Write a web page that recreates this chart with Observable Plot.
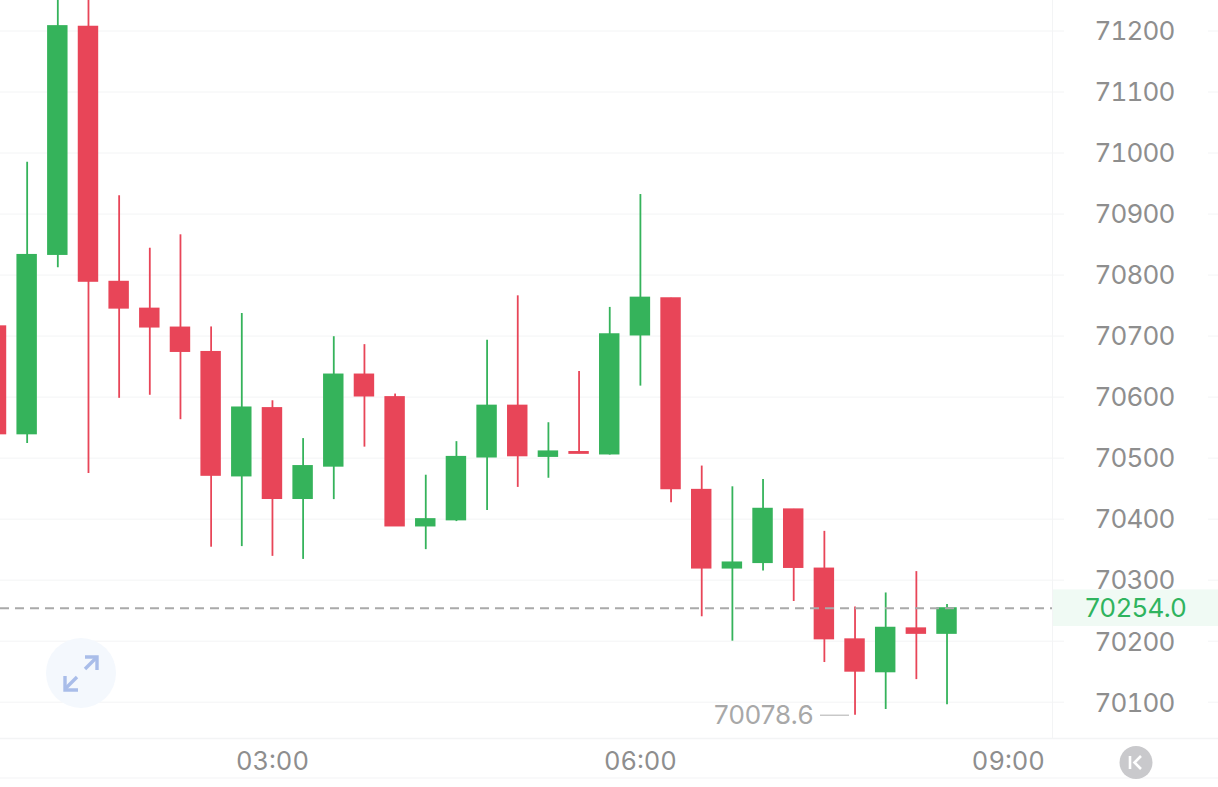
<!DOCTYPE html>
<html><head><meta charset="utf-8">
<script src="https://cdn.jsdelivr.net/npm/d3@7"></script>
<script src="https://cdn.jsdelivr.net/npm/@observablehq/plot@0.6"></script>
<style>
html,body{margin:0;padding:0;background:#fff;overflow:hidden}
#wrap{position:relative;width:1218px;height:787px}
#wrap svg{display:block}
#wrap svg [aria-label="y-axis tick label"]{letter-spacing:-0.9px}
#icons{position:absolute;left:0;top:0;pointer-events:none}
</style></head><body><div id="wrap"></div>
<script>
const firstCandle = "00:45";
const opens  = [70716,70539,70833,71207,70789,70745,70714,70674,70470,70582,70433,70486,70637,70600,70388,70398,70501,70586,70502,70510,70506,70701,70762,70448,70319,70328,70416,70319,70203,70149,70221,70212];
const highs  = [70716,70985,71300,71320,70930,70844,70866,70715,70737,70594,70532,70699,70686,70605,70472,70527,70693,70766,70558,70642,70747,70932,70762,70487,70453,70465,70416,70380,70256,70279,70314,70260];
const lows   = [70539,70524,70812,70475,70598,70603,70563,70354,70355,70339,70334,70432,70518,70388,70350,70396,70414,70452,70467,70507,70505,70618,70427,70240,70200,70315,70265,70165,70078.6,70088,70137,70096];
const closes = [70539,70833,71208,70789,70745,70714,70674,70471,70583,70433,70487,70637,70601,70388,70400,70502,70586,70503,70511,70507,70703,70763,70449,70319,70329,70417,70320,70203,70150,70222,70212,70254];
const yTicks = [71200,71100,71000,70900,70800,70700,70600,70500,70400,70300,70200,70100];
const xTickLabels = ["03:00","06:00","09:00"];
const lastPrice = 70254.0;
const lowPrice = 70078.6;

const GREEN="#35b35b", RED="#e84558", GRID="#f3f4f5", TXT="#8e8e8e";
const FONT="Inter, sans-serif";
const minute = m => new Date(Date.UTC(2024,0,1,0,0,0)+m*60000);
const parseHM = s => { const [h,m]=s.split(":").map(Number); return h*60+m; };
const t0 = parseHM(firstCandle);
const candles = opens.map((o,i)=>({
  m:t0+15*i, open:o, close:closes[i], high:highs[i], low:lows[i],
  color: closes[i]>=o ? GREEN : RED
}));
const domainM=[46.96,561.6];
const pxM = px => minute(domainM[0]+px/1052*(domainM[1]-domainM[0]));

const chart = Plot.plot({
  width:1218, height:787,
  marginLeft:0, marginRight:166, marginTop:0, marginBottom:49,
  style:{fontFamily:FONT, background:"#fff", overflow:"visible"},
  x:{type:"utc", domain:domainM.map(minute)},
  y:{domain:[70040.5,71250]},
  marks:[
    Plot.rect([lastPrice],{x1:pxM(1052),x2:pxM(1218),y1:d=>d-30,y2:d=>d+30,fill:"#f0faf4"}),
    Plot.ruleY(yTicks,{x1:pxM(0),x2:pxM(1064),stroke:GRID,strokeWidth:1}),
    Plot.ruleY(yTicks,{x1:pxM(1208),x2:pxM(1218),stroke:GRID,strokeWidth:1}),
    Plot.ruleX([pxM(1052)],{stroke:GRID,strokeWidth:1}),
    Plot.ruleY([70040.5],{x1:pxM(0),x2:pxM(1218),stroke:GRID,strokeWidth:1.5}),
    Plot.ruleX(candles,{x:d=>minute(d.m),y1:"low",y2:"high",stroke:"color",strokeWidth:1.8,clip:true}),
    Plot.rect(candles,{x1:d=>minute(d.m-5),x2:d=>minute(d.m+5),y1:"open",y2:"close",fill:"color",insetTop:-0.5,insetBottom:-0.5,clip:true}),
    Plot.ruleY([lastPrice],{x1:pxM(0),x2:pxM(1052),stroke:"#a9a9a9",strokeWidth:1.8,strokeDasharray:"9,6"}),
    Plot.axisY({anchor:"right",ticks:yTicks,tickSize:0,tickPadding:82,textAnchor:"middle",tickFormat:d=>String(d),fontSize:26,fill:TXT,label:null,dy:1}),
    Plot.axisX({ticks:xTickLabels.map(s=>minute(parseHM(s))),tickFormat:d=>d3.utcFormat("%H:%M")(d),tickSize:0,tickPadding:13,fontSize:25.5,fill:TXT,label:null}),
    Plot.text([lastPrice],{x:pxM(1135.5),y:d=>d,text:d=>d.toFixed(1),fill:"#2fb45e",fontSize:26}),
    Plot.ruleY([lowPrice],{x1:pxM(820),x2:pxM(849),stroke:"#c6c6c6",strokeWidth:1.4}),
    Plot.text([lowPrice],{x:pxM(813),y:d=>d,text:d=>d.toFixed(1),textAnchor:"end",fill:"#a8a8a8",fontSize:26})
  ]
});
const wrap=document.getElementById("wrap");
wrap.appendChild(chart);
wrap.insertAdjacentHTML("beforeend",`<svg id="icons" width="1218" height="787" viewBox="0 0 1218 787">
  <line x1="0" y1="778" x2="1218" y2="778" stroke="${GRID}" stroke-width="1.2"/>
  <circle cx="81" cy="673" r="35" fill="#f4f8fd"/>
  <g fill="none" stroke="#a9bde9" stroke-width="3.4">
    <path d="M85 669 L97 657"/><path d="M85 657 H97 V670"/>
    <path d="M77 677 L65 689"/><path d="M65 676 V690 H78"/>
  </g>
  <circle cx="1136" cy="762.5" r="16.5" fill="#c9c9cc"/>
  <g fill="none" stroke="#fff" stroke-width="2.6">
    <path d="M1130 756 V769"/><path d="M1141 756 L1134.5 762.5 L1141 769"/>
  </g>
</svg>`);
</script></body></html>
